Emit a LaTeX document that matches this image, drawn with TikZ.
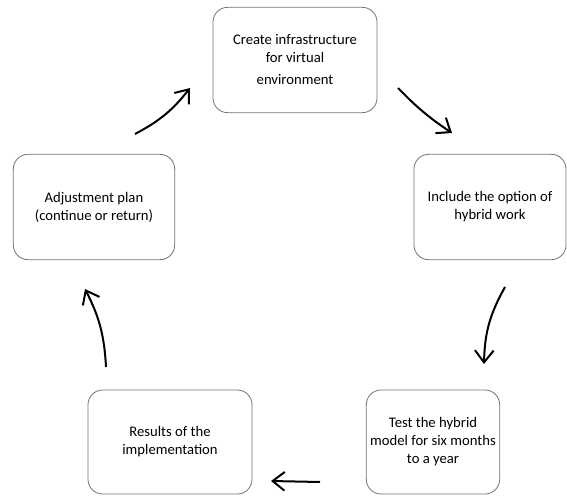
\documentclass[tikz,border=0pt]{standalone}
\usepackage{fontspec}
\setmainfont{Carlito}
\usetikzlibrary{arrows.meta,positioning}

\begin{document}
\begin{tikzpicture}[
  x=0.75pt,y=-0.75pt,
  stage/.style={draw=black!55,line width=0.6pt,rounded corners=11pt,align=center,font=\fontsize{11}{13.5}\selectfont,inner sep=2pt},
  cycle/.style={line width=1.5pt,-{Straight Barb[length=9pt,width=14pt,line width=1.5pt]}}
]
  \useasboundingbox (0,0) rectangle (567,496);

  \node[stage,minimum width=123pt,minimum height=79pt] (infra) at (295,60) {Create infrastructure\\for virtual\\[3pt]environment};
  \node[stage,minimum width=114pt,minimum height=79pt] (hybrid) at (490,207) {Include the option of\\hybrid work};
  \node[stage,minimum width=100pt,minimum height=78pt] (test) at (433,442) {Test the hybrid\\model for six months\\to a year};
  \node[stage,minimum width=123pt,minimum height=78pt] (results) at (170,442) {Results of the\\implementation};
  \node[stage,minimum width=121pt,minimum height=79pt] (adjust) at (94,207) {Adjustment plan\\(continue or return)};

  % free arrow ends
  \coordinate (a1) at (398,88);  \coordinate (b1) at (452,133);
  \coordinate (a2) at (505,287); \coordinate (b2) at (484,364);
  \coordinate (a3) at (320,482); \coordinate (b3) at (271,481);
  \coordinate (a4) at (106,367); \coordinate (b4) at (85,289);
  \coordinate (a5) at (135,134); \coordinate (b5) at (190,88);

  \draw[cycle] (a1) to[bend right=6] (b1);
  \draw[cycle] (a2) to[bend right=14] (b2);
  \draw[cycle] (a3) -- (b3);
  \draw[cycle] (a4) to[bend right=12] (b4);
  \draw[cycle] (a5) to[bend right=12] (b5);
\end{tikzpicture}
\end{document}
